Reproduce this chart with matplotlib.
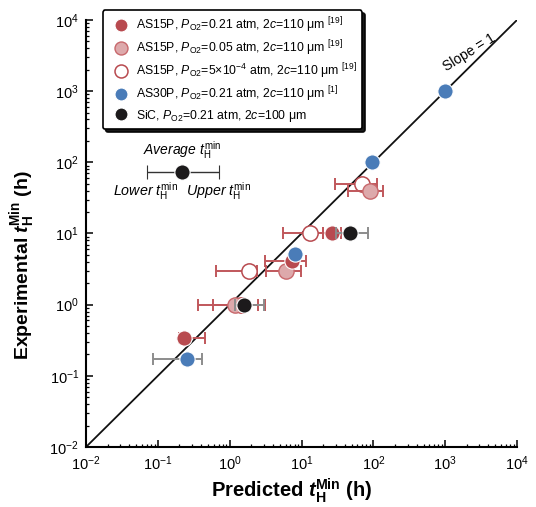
import matplotlib
matplotlib.use("Agg")
import matplotlib.pyplot as plt
import numpy as np

plt.rcParams['font.family'] = ['Liberation Sans', 'DejaVu Sans']
plt.rcParams['mathtext.fontset'] = 'custom'
plt.rcParams['mathtext.rm'] = 'Liberation Sans'
plt.rcParams['mathtext.it'] = 'Liberation Sans:italic'
plt.rcParams['mathtext.bf'] = 'Liberation Sans:bold'
plt.rcParams['mathtext.bfit'] = 'Liberation Sans:bold:italic'
plt.rcParams['mathtext.sf'] = 'Liberation Sans'

# AS15P, PO2 = 0.21 atm
as15_021_x = [0.235, 7.4, 27]
as15_021_y = [0.335, 4.1, 10]
as15_021_lo = [0.2, 3.1, 20]
as15_021_hi = [0.46, 11.5, 36]

# AS15P, PO2 = 0.05 atm
as15_005_x = [1.19, 6.1, 90]
as15_005_y = [1.0, 3.0, 40]
as15_005_lo = [0.58, 3.2, 44]
as15_005_hi = [2.5, 9.9, 137]

# AS15P, PO2 = 5e-4 atm
as15_5e4_x = [1.45, 1.88, 13, 70]
as15_5e4_y = [1.0, 3.0, 10, 50]
as15_5e4_lo = [0.36, 0.65, 5.5, 29.6]
as15_5e4_hi = [3.1, 2.4, 20, 113]

# AS30P, PO2 = 0.21 atm
as30_x = [0.257, 8, 95, 1000]
as30_y = [0.17, 5.1, 100, 1000]
as30_lo = [0.0865, 8, 95, 1000]
as30_hi = [0.417, 8, 95, 1000]

# SiC, PO2 = 0.21 atm
sic_x = [1.58, 48]
sic_y = [1.0, 10]
sic_lo = [1.2, 30]
sic_hi = [3.0, 85]

# illustrative error-bar key
key_x, key_y, key_lo, key_hi = 0.217, 73, 0.071, 0.71

RED = '#B84A4F'
PINK = '#DDA9AB'
PINK_EDGE = '#C8686C'
BLUE = '#4A7CB8'
BLACK = '#1C1A1B'
RED_BAR = '#C0575B'
GRAY_BAR = '#8C8C8C'

fig = plt.figure(figsize=(5.36, 5.07), dpi=100)
ax = fig.add_axes([86/536, 1-447/507, 431/536, 427/507])
ax.set_xscale('log')
ax.set_yscale('log')
ax.set_xlim(1e-2, 1e4)
ax.set_ylim(1e-2, 1e4)

# slope = 1 reference line
lim = np.array([1e-2, 1e4])
ax.plot(lim, lim, color='#111111', lw=1.3, zorder=1)
ax.text(2200, 3500, 'Slope = 1', rotation=45, rotation_mode='anchor',
        ha='center', va='center', fontsize=10, transform_rotates_text=True)


def series(x, y, lo, hi, bar_color, face, edge, ew, label, z):
    x = np.asarray(x, float)
    y = np.asarray(y, float)
    xerr = np.vstack([x - np.asarray(lo, float), np.asarray(hi, float) - x])
    ax.errorbar(x, y, xerr=xerr, fmt='none', ecolor=bar_color, elinewidth=1.4,
                capsize=4, capthick=1.4, zorder=z)
    ax.plot(x, y, 'o', ms=11, mfc=face, mec=edge, mew=ew, zorder=z + 0.5,
            label=label)


series(as15_5e4_x, as15_5e4_y, as15_5e4_lo, as15_5e4_hi, RED_BAR, 'white', RED, 1.1,
       r'AS15P, $P_{\mathrm{O2}}$=5$\times$10$^{-4}$ atm, 2$c$=110 μm $^{[19]}$', 2)
series(as15_005_x, as15_005_y, as15_005_lo, as15_005_hi, RED_BAR, PINK, PINK_EDGE, 1.0,
       r'AS15P, $P_{\mathrm{O2}}$=0.05 atm, 2$c$=110 μm $^{[19]}$', 3)
series(as15_021_x, as15_021_y, as15_021_lo, as15_021_hi, RED_BAR, RED, 'white', 0.8,
       r'AS15P, $P_{\mathrm{O2}}$=0.21 atm, 2$c$=110 μm $^{[19]}$', 4)
series(sic_x, sic_y, sic_lo, sic_hi, GRAY_BAR, BLACK, 'white', 0.8,
       r'SiC, $P_{\mathrm{O2}}$=0.21 atm, 2$c$=100 μm', 5)
series(as30_x, as30_y, as30_lo, as30_hi, GRAY_BAR, BLUE, 'white', 0.8,
       r'AS30P, $P_{\mathrm{O2}}$=0.21 atm, 2$c$=110 μm $^{[1]}$', 6)

# key explaining the error bars
ax.errorbar([key_x], [key_y], xerr=[[key_x - key_lo], [key_hi - key_x]], fmt='o',
            color=BLACK, ms=11, mec='white', mew=0.8, ecolor='#333333',
            elinewidth=1.0, capsize=5, capthick=1.0, zorder=6)
ax.text(key_x, 150, r'Average $t_{\mathrm{H}}^{\mathrm{min}}$', style='italic',
        ha='center', va='center', fontsize=10)
ax.text(0.19, 40, r'Lower $t_{\mathrm{H}}^{\mathrm{min}}$', style='italic',
        ha='right', va='center', fontsize=10.3)
ax.text(0.245, 40, r'Upper $t_{\mathrm{H}}^{\mathrm{min}}$', style='italic',
        ha='left', va='center', fontsize=10.3)

handles, labels = ax.get_legend_handles_labels()
order = [2, 1, 0, 4, 3]
leg = ax.legend([handles[i] for i in order], [labels[i] for i in order],
                loc='upper left', bbox_to_anchor=(0.039, 1.023), borderaxespad=0,
                fontsize=8.8, frameon=True, fancybox=True, framealpha=1,
                edgecolor='black', handletextpad=0.25, handlelength=2.0,
                labelspacing=0.28, borderpad=0.45, markerscale=0.85,
                shadow={'color': 'black', 'alpha': 0.9})
leg.get_frame().set_linewidth(1.2)
leg.set_zorder(10)

for s in ['top', 'right']:
    ax.spines[s].set_visible(False)
for s in ['left', 'bottom']:
    ax.spines[s].set_linewidth(1.5)
ax.tick_params(which='major', direction='in', length=5, width=1.1, labelsize=10.5, pad=5)
ax.tick_params(which='minor', direction='in', length=2.5, width=0.9)
ax.xaxis.set_major_locator(matplotlib.ticker.LogLocator(base=10, numticks=10))
ax.yaxis.set_major_locator(matplotlib.ticker.LogLocator(base=10, numticks=10))
ax.xaxis.set_minor_locator(matplotlib.ticker.LogLocator(base=10, subs=np.arange(2, 10), numticks=20))
ax.yaxis.set_minor_locator(matplotlib.ticker.LogLocator(base=10, subs=np.arange(2, 10), numticks=20))
ax.xaxis.set_minor_formatter(matplotlib.ticker.NullFormatter())
ax.yaxis.set_minor_formatter(matplotlib.ticker.NullFormatter())

ax.set_xlabel(r'Predicted $\mathbfit{t}_{\mathbf{H}}^{\mathbf{Min}}$ (h)',
              fontsize=14.5, fontweight='bold')
ax.set_ylabel(r'Experimental $\mathbfit{t}_{\mathbf{H}}^{\mathbf{Min}}$ (h)',
              fontsize=14, fontweight='bold')
ax.xaxis.set_label_coords((292 - 86) / 431, (447 - 476) / 427)
ax.yaxis.set_label_coords((37 - 86) / 431, 0.425)

fig.savefig('out.png', dpi=100)
